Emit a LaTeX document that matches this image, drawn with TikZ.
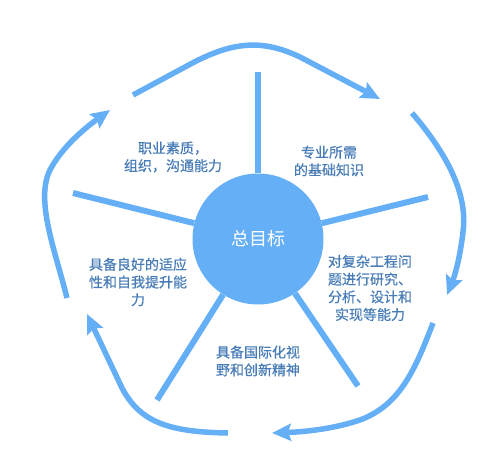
\documentclass[tikz,border=0pt]{standalone}
\usepackage{fontspec}
\setmainfont{Noto Sans CJK SC}
\newfontfamily\lblfont[FakeBold=0.5]{Noto Sans CJK SC}
\usetikzlibrary{arrows.meta}
\definecolor{arrowblue}{RGB}{100,175,245}
\definecolor{textblue}{RGB}{72,124,182}
\tikzset{
  cyc/.style={draw=arrowblue, line width=5.5pt, -{Stealth[length=19pt,width=17pt,inset=3pt]}},
  spoke/.style={draw=arrowblue, line width=6pt},
  lbl/.style={text=textblue, font=\lblfont\fontsize{14}{17.7}\selectfont, align=center, inner sep=0pt},
  hub/.style={circle, fill=arrowblue, minimum size=131pt, inner sep=0pt, text=white, font=\fontsize{18}{20}\selectfont}
}
\begin{document}
\begin{tikzpicture}[x=1pt,y=-1pt]
\useasboundingbox (0,0) rectangle (499,453);
% hub
\node[hub] (c) at (258,239) {总目标};
% spoke ends
\coordinate (s1) at (258,72);
\coordinate (s2) at (428,197);
\coordinate (s3) at (358,386);
\coordinate (s4) at (157,400);
\coordinate (s5) at (73,193);
\draw[spoke] (c) -- (s1);
\draw[spoke] (c) -- (s2);
\draw[spoke] (c) -- (s3);
\draw[spoke] (c) -- (s4);
\draw[spoke] (c) -- (s5);
% cycle arrow ends
\coordinate (a1) at (133,95);
\coordinate (b1) at (380,99);
\coordinate (a2) at (412,113);
\coordinate (b2) at (447,295);
\coordinate (a3) at (433,323);
\coordinate (b3) at (272,433);
\coordinate (a4) at (228,433);
\coordinate (b4) at (87,314);
\coordinate (a5) at (67,298);
\coordinate (b5) at (110,110);
\draw[cyc] (a1) -- (185,67) .. controls (230,42) and (260,38) .. (300,57) -- (b1);
\draw[cyc] (a2) .. controls (448,155) and (468,195) .. (463,232) .. controls (460,258) and (455,275) .. (b2);
\draw[cyc] (a3) .. controls (415,370) and (400,405) .. (360,420) .. controls (330,430) and (300,432) .. (b3);
\draw[cyc] (a4) .. controls (168,432) and (140,422) .. (122,388) -- (b4);
\draw[cyc] (a5) .. controls (55,250) and (35,200) .. (50,170) .. controls (62,147) and (85,128) .. (b5);
% labels
\node[lbl] (t1) at (173,157) {职业素质，\\组织，沟通能力};
\node[lbl] (t2) at (329,161) {专业所需\\的基础知识};
\node[lbl] (t3) at (370,288) {对复杂工程问\\题进行研究、\\分析、设计和\\实现等能力};
\node[lbl] (t4) at (258,361) {具备国际化视\\野和创新精神};
\node[lbl] (t5) at (138,282) {具备良好的适应\\性和自我提升能\\力};
\end{tikzpicture}
\end{document}
